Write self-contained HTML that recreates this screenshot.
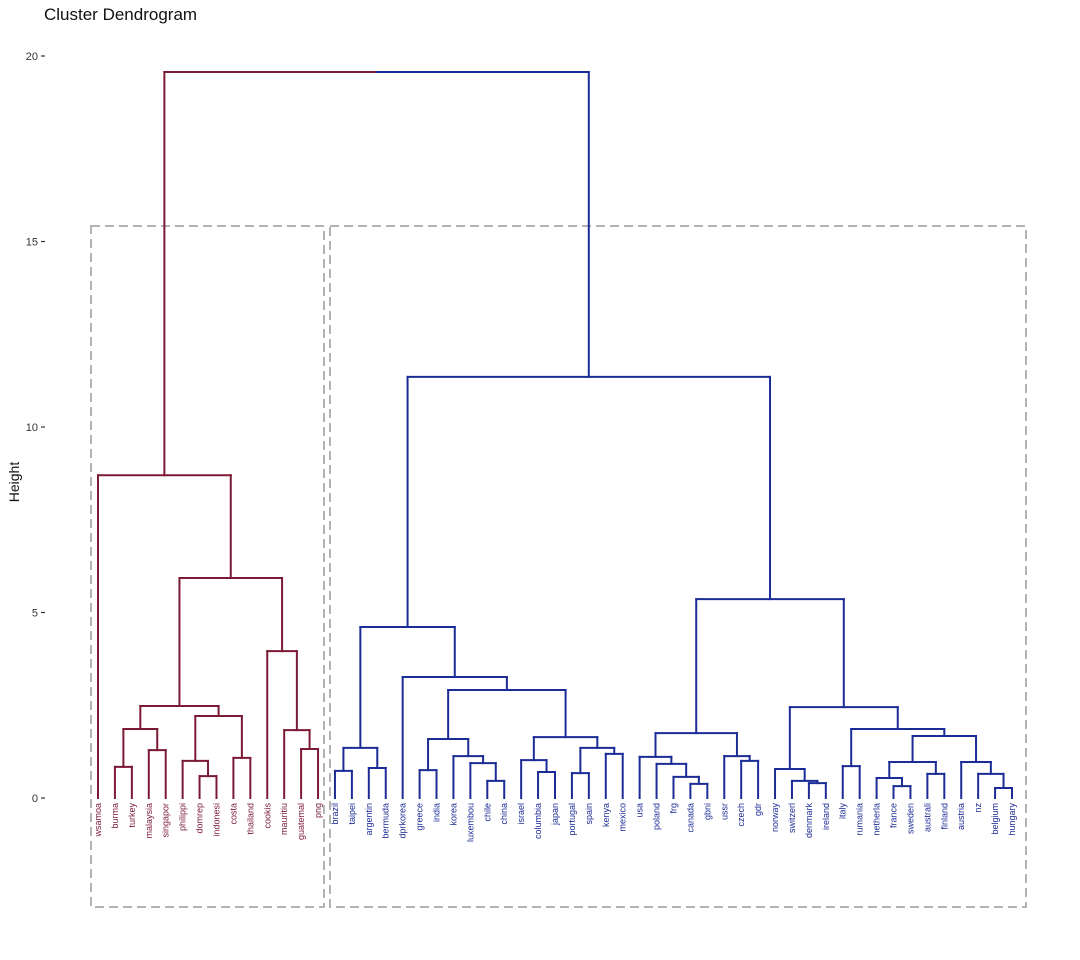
<!DOCTYPE html>
<html><head><meta charset="utf-8"><style>
body{margin:0;background:#fff;}
svg{display:block;font-family:"Liberation Sans",sans-serif;}
</style></head><body>
<svg id="c" width="1080" height="960" viewBox="0 0 1080 960" xmlns="http://www.w3.org/2000/svg">
<text x="44" y="20" font-size="17" fill="#111">Cluster Dendrogram</text>
<text transform="translate(19,482) rotate(-90)" text-anchor="middle" font-size="14" fill="#111">Height</text>
<g id="axis"></g>
<g id="boxes"></g>
<g id="tree"></g>
<g id="labels"></g>
</svg>
<script>
const yTicks=[0,5,10,15,20];
const yTickLabels=["0","5","10","15","20"];
// tree: [left, right, height]; leaves are strings
const redTree=["wsamoa",[[[["burma","turkey",0.84],["malaysia","singapor",1.29],1.86],[["philippi",["domrep","indonesi",0.59],1.0],["costa","thailand",1.08],2.21],2.48],["cookis",["mauritiu",["guatemal","png",1.32],1.83],3.96],5.93],8.7];
const blueTree=[[[["brazil","taipei",0.73],["argentin","bermuda",0.81],1.35],["dprkorea",[[["greece","india",0.75],["korea",["luxembou",["chile","china",0.46],0.94],1.13],1.59],[["israel",["columbia","japan",0.70],1.02],[["portugal","spain",0.67],["kenya","mexico",1.19],1.35],1.64],2.91],3.26],4.61],[[["usa",["poland",["frg",["canada","gbni",0.38],0.57],0.92],1.11],["ussr",["czech","gdr",1.0],1.13],1.75],[["norway",["switzerl",["denmark","ireland",0.40],0.46],0.78],[["italy","rumania",0.86],[[["netherla",["france","sweden",0.32],0.54],["australi","finland",0.65],0.97],["austria",["nz",["belgium","hungary",0.27],0.65],0.97],1.67],1.86],2.45],5.36],11.35];
const rootHeight=19.57;

const NS="http://www.w3.org/2000/svg";
const RED="#7b1a35",BLUE="#1c2c96";
const yScale=h=>798-h*37.1;
const x0=98,dx=(1012-98)/54;
let leafIdx=0;
const tree=document.getElementById('tree'),labels=document.getElementById('labels');
function line(x1,y1,x2,y2,col,g,name){
  const l=document.createElementNS(NS,'line');
  l.setAttribute('x1',x1);l.setAttribute('y1',y1);l.setAttribute('x2',x2);l.setAttribute('y2',y2);
  l.setAttribute('stroke',col);l.setAttribute('stroke-width','2');l.setAttribute('stroke-linecap','square');
  
  
  g.appendChild(l);
}
function layout(n,col){
  if(typeof n==='string'){
    const x=x0+dx*(leafIdx++);
    const t=document.createElementNS(NS,'text');
    t.setAttribute('transform','translate('+(x+3)+',803) rotate(-90)');
    t.setAttribute('text-anchor','end');t.setAttribute('font-size','9');t.setAttribute('fill',col);
    t.textContent=n;
    
    
    labels.appendChild(t);
    return {x:x,h:0};
  }
  const a=layout(n[0],col),b=layout(n[1],col),h=n[2],y=yScale(h);
  line(a.x,yScale(a.h),a.x,y,col,tree,'link');
  line(b.x,yScale(b.h),b.x,y,col,tree,'link');
  line(a.x,y,b.x,y,col,tree,'link');
  return {x:(a.x+b.x)/2,h:h};
}
const r=layout(redTree,RED),bl=layout(blueTree,BLUE);
const yt=yScale(rootHeight),mid=(r.x+bl.x)/2;
line(r.x,yScale(r.h),r.x,yt,RED,tree,'root-link-red');
line(r.x,yt,mid,yt,RED,tree,'root-link-red');
line(bl.x,yScale(bl.h),bl.x,yt,BLUE,tree,'root-link-blue');
line(mid,yt,bl.x,yt,BLUE,tree,'root-link-blue');
// axis
const ax=document.getElementById('axis');
yTicks.forEach((v,i)=>{
  const y=yScale(v);
  const l=document.createElementNS(NS,'line');
  l.setAttribute('x1',41);l.setAttribute('x2',45);l.setAttribute('y1',y);l.setAttribute('y2',y);
  l.setAttribute('stroke','#333');l.setAttribute('stroke-width','1.2');
  
  
  ax.appendChild(l);
  const t=document.createElementNS(NS,'text');
  t.setAttribute('x',38);t.setAttribute('y',y+4);t.setAttribute('text-anchor','end');
  t.setAttribute('font-size','11');t.setAttribute('fill','#333');
  t.textContent=yTickLabels[i];
  
  
  ax.appendChild(t);
});
// cluster boxes
const bx=document.getElementById('boxes');
[[91,324,'red-cluster-box'],[330,1026,'blue-cluster-box']].forEach(b=>{
  const rc=document.createElementNS(NS,'rect');
  rc.setAttribute('x',b[0]);rc.setAttribute('y',226);rc.setAttribute('width',b[1]-b[0]);rc.setAttribute('height',681);
  rc.setAttribute('fill','none');rc.setAttribute('stroke','#b3b3b3');rc.setAttribute('stroke-width','2');rc.setAttribute('stroke-dasharray','9,5');
  
  
  bx.appendChild(rc);
});
</script>
</body></html>
